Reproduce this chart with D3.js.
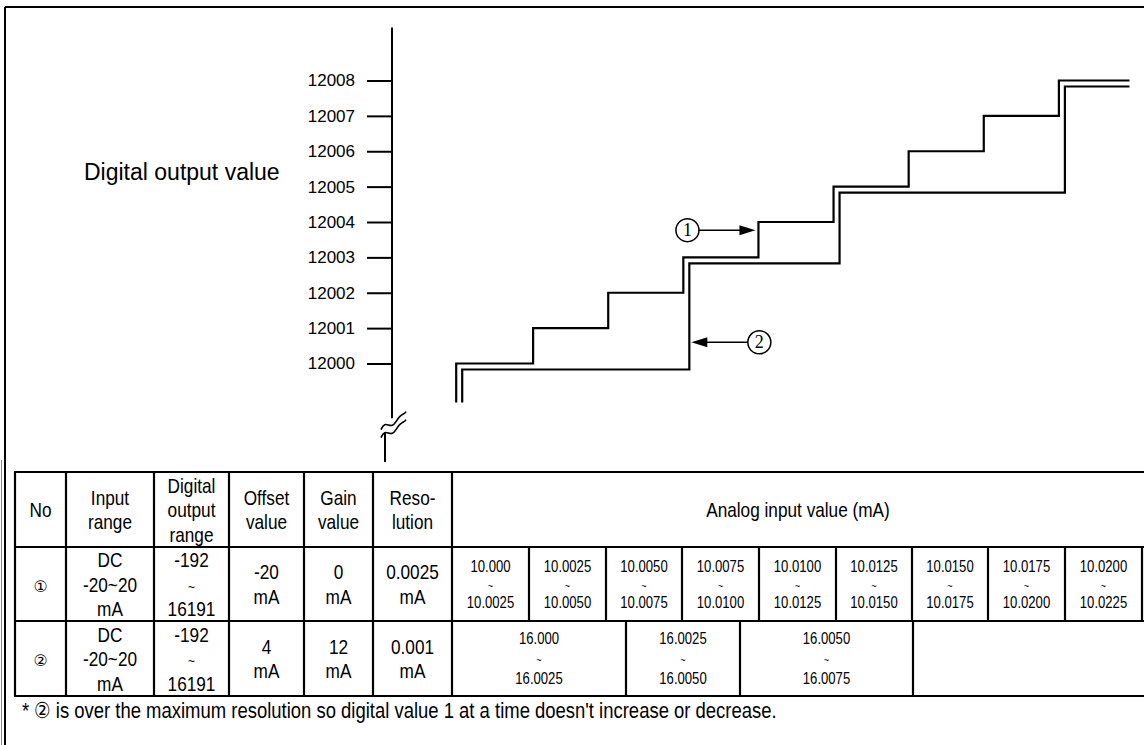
<!DOCTYPE html>
<html>
<head>
<meta charset="utf-8">
<script src="https://cdn.jsdelivr.net/npm/d3@7/dist/d3.min.js"></script>
<style>
  html, body { margin: 0; padding: 0; background: #fff; }
  svg { display: block; }
</style>
</head>
<body>
<svg id="chart" width="1144" height="745"></svg>
<script>
// ---------------- DATA ----------------
const yTicks = [12000, 12001, 12002, 12003, 12004, 12005, 12006, 12007, 12008];
// Series ① : digital value steps by 1 for each 0.0025 mA
const s1Steps  = [10.0025, 10.0050, 10.0075, 10.0100, 10.0125, 10.0150, 10.0175, 10.0200];
const s1Levels = [12000, 12001, 12002, 12003, 12004, 12005, 12006, 12007, 12008];
// Series ② : over max resolution, jumps more than 1 at a time
const s2Steps  = [10.0075, 10.0125, 10.0200];
const s2Levels = [12000, 12003, 12005, 12008];
const xStart = 9.99994, xEnd = 10.02235, yFloor = 11998.9;

const headerCols = ["No", "Input\nrange", "Digital\noutput\nrange", "Offset\nvalue", "Gain\nvalue", "Reso-\nlution"];
const row1Cols = ["①", "DC\n-20~20\nmA", "-192\n~\n16191", "-20\nmA", "0\nmA", "0.0025\nmA"];
const row2Cols = ["②", "DC\n-20~20\nmA", "-192\n~\n16191", "4\nmA", "12\nmA", "0.001\nmA"];
const analogHeader = "Analog input value (mA)";
const row1Analog = ["10.000", "10.0025", "10.0050", "10.0075", "10.0100", "10.0125", "10.0150", "10.0175", "10.0200", "10.0225"];
const row2Analog = ["16.000", "16.0025", "16.0050", "16.0075"];
const footnote = "* ② is over the maximum resolution so digital value 1 at a time doesn't increase or decrease.";
const yTitle = "Digital output value";

// ---------------- FONT CHECK ----------------
function hasFont(name) {
  const c = document.createElement("canvas").getContext("2d");
  const s = "abcdefghijklmnopqrstuvwxyz0123456789";
  c.font = "20px monospace"; const a = c.measureText(s).width;
  c.font = `20px "${name}", monospace`; const b = c.measureText(s).width;
  return Math.abs(a - b) > 0.5;
}
const narrowOK = hasFont("Liberation Sans Narrow");
const NARROW = narrowOK ? '"Liberation Sans Narrow", "Arial Narrow", sans-serif' : '"Liberation Sans", Arial, sans-serif';
const SQ = narrowOK ? 1 : 0.82;

const svg = d3.select("#chart");

// ---------------- FRAME ----------------
svg.append("line").attr("x1", 5).attr("y1", 7).attr("x2", 1144).attr("y2", 7).attr("stroke", "#000").attr("stroke-width", 2);
svg.append("line").attr("x1", 5).attr("y1", 7).attr("x2", 5).attr("y2", 745).attr("stroke", "#000").attr("stroke-width", 2);
svg.append("line").attr("x1", 1.5).attr("y1", 460).attr("x2", 1.5).attr("y2", 745).attr("stroke", "#888").attr("stroke-width", 1);

// ---------------- SCALES ----------------
const x = d3.scaleLinear().domain([10.000, 10.0225]).range([458, 1134]);
const y = d3.scaleLinear().domain([12000, 12008]).range([363.5, 80.5]);
const axisX = 392;

// y axis
const gAxis = svg.append("g").attr("transform", `translate(${axisX},0)`);
gAxis.call(d3.axisLeft(y).tickValues(yTicks).tickFormat(d3.format("d")).tickSize(25).tickPadding(12));
gAxis.select(".domain").remove();
gAxis.selectAll(".tick line").attr("stroke", "#000").attr("stroke-width", 2);
gAxis.selectAll(".tick text").attr("font-family", '"Liberation Sans", Arial, sans-serif').attr("font-size", 17).attr("fill", "#000");

// axis line with break
svg.append("line").attr("x1", axisX).attr("x2", axisX).attr("y1", y(12009.5)).attr("y2", y(11998.45))
  .attr("stroke", "#000").attr("stroke-width", 2);
svg.append("line").attr("x1", axisX - 7).attr("x2", axisX - 7).attr("y1", y(11998.05)).attr("y2", 462)
  .attr("stroke", "#000").attr("stroke-width", 2);
const bY = y(11998.3);
[0, 8].forEach(off => {
  svg.append("path")
    .attr("d", `M${axisX - 11},${bY + off + 6} C${axisX - 6},${bY + off - 6} ${axisX - 2},${bY + off + 8} ${axisX + 4},${bY + off - 2} S${axisX + 12},${bY + off - 8} ${axisX + 14},${bY + off - 12}`)
    .attr("fill", "none").attr("stroke", "#000").attr("stroke-width", 1.6);
});

svg.append("text").attr("x", 84).attr("y", 180).text(yTitle)
  .attr("font-family", '"Liberation Sans", Arial, sans-serif').attr("font-size", 23).attr("fill", "#000");

// ---------------- STEP LINES ----------------
function stepPoints(steps, levels) {
  const pts = [[xStart, yFloor], [xStart, levels[0]]];
  steps.forEach((s, i) => { pts.push([s, levels[i]]); pts.push([s, levels[i + 1]]); });
  pts.push([xEnd, levels[levels.length - 1]]);
  return pts;
}
const line = d3.line().x(d => x(d[0])).y(d => y(d[1]));
svg.append("path").attr("d", line(stepPoints(s1Steps, s1Levels)))
  .attr("fill", "none").attr("stroke", "#000").attr("stroke-width", 2.2);
const off = 6;
const p2 = stepPoints(s2Steps, s2Levels);
const line2 = d3.line().x((d, i) => x(d[0]) + (i === p2.length - 1 ? 0 : off)).y((d, i) => y(d[1]) + (i === 0 ? 0 : off));
svg.append("path").attr("d", line2(p2))
  .attr("fill", "none").attr("stroke", "#000").attr("stroke-width", 2.2);

// ---------------- ANNOTATIONS ----------------
function annot(label, tipX, tipY, dir) {
  const cx = tipX + dir * 68;
  const g = svg.append("g");
  g.append("circle").attr("cx", cx).attr("cy", tipY).attr("r", 11.5).attr("fill", "#fff").attr("stroke", "#000").attr("stroke-width", 1.5);
  g.append("text").attr("x", cx).attr("y", tipY + 6).attr("text-anchor", "middle")
    .attr("font-family", '"Liberation Serif", serif').attr("font-size", 18).text(label);
  g.append("line").attr("x1", cx - dir * 11.5).attr("x2", tipX + dir * 14).attr("y1", tipY).attr("y2", tipY)
    .attr("stroke", "#000").attr("stroke-width", 1.5);
  g.append("path").attr("d", `M${tipX},${tipY} L${tipX + dir * 16},${tipY - 5} L${tipX + dir * 16},${tipY + 5} Z`).attr("fill", "#000");
}
annot("1", x(10.0100) - 3, y(12003.77), -1);
annot("2", x(10.0075) + off + 2, y(12000.6), 1);

// ---------------- TABLE ----------------
const colEdges = [15, 66, 154, 229, 304, 373, 452];
const anEdges = [452, 529, 606, 682, 759, 836, 912, 988, 1065, 1142];
const row2Edges = [452, 626, 740, 913, 1150];
const rowEdges = [472, 547, 621, 696];
const tRight = 1150;
const tg = svg.append("g");
const LW = 2.2;
function hl(x1, x2, yy) { tg.append("line").attr("x1", x1).attr("x2", x2).attr("y1", yy).attr("y2", yy).attr("stroke", "#000").attr("stroke-width", LW); }
function vl(xx, y1, y2) { tg.append("line").attr("x1", xx).attr("x2", xx).attr("y1", y1).attr("y2", y2).attr("stroke", "#000").attr("stroke-width", LW); }
rowEdges.forEach(r => hl(colEdges[0] - 1, tRight, r));
colEdges.forEach(c => vl(c, rowEdges[0], rowEdges[3]));
anEdges.slice(1).forEach(c => vl(c, rowEdges[1], rowEdges[2]));
row2Edges.slice(1, -1).forEach(c => vl(c, rowEdges[2], rowEdges[3]));

function mtext(cx, cy, str, size, lh) {
  const lines = str.split("\n");
  const n = lines.length;
  lines.forEach((t, i) => {
    const yy = cy + (i - (n - 1) / 2) * lh + size * 0.36;
    const isTilde = t === "~";
    const isCircled = /[①②]/.test(t);
    const el = tg.append("text").text(t)
      .attr("text-anchor", "middle")
      .attr("font-family", isCircled ? '"DejaVu Sans", "Noto Sans CJK SC", sans-serif' : NARROW)
      .attr("font-size", isTilde ? size * 0.7 : (isCircled ? size * 0.75 : size))
      .attr("fill", "#000");
    if (SQ !== 1 && !isCircled) el.attr("transform", `translate(${cx},${yy}) scale(${SQ},1)`);
    else el.attr("x", cx).attr("y", yy);
  });
}
const mid = (a, b) => (a + b) / 2;
headerCols.forEach((t, i) => mtext(mid(colEdges[i], colEdges[i + 1]), mid(rowEdges[0], rowEdges[1]), t, 21, 24.5));
row1Cols.forEach((t, i) => mtext(mid(colEdges[i], colEdges[i + 1]), mid(rowEdges[1], rowEdges[2]), t, 21, 24.5));
row2Cols.forEach((t, i) => mtext(mid(colEdges[i], colEdges[i + 1]), mid(rowEdges[2], rowEdges[3]), t, 21, 24.5));
mtext(mid(452, 1144), mid(rowEdges[0], rowEdges[1]), analogHeader, 21, 24);
for (let i = 0; i < 9; i++) {
  mtext(mid(anEdges[i], anEdges[i + 1]), mid(rowEdges[1], rowEdges[2]), row1Analog[i] + "\n~\n" + row1Analog[i + 1], 16, 18);
}
for (let i = 0; i < 3; i++) {
  mtext(mid(row2Edges[i], row2Edges[i + 1]), mid(rowEdges[2], rowEdges[3]), row2Analog[i] + "\n~\n" + row2Analog[i + 1], 16, 20);
}

// footnote
const fnSize = 22, fnSq = narrowOK ? 1 : 0.84;
const fn = svg.append("text").text(footnote).attr("font-family", NARROW).attr("font-size", fnSize).attr("fill", "#000");
if (fnSq !== 1) fn.attr("transform", `translate(22,718) scale(${fnSq},1)`); else fn.attr("x", 22).attr("y", 718);
</script>
</body>
</html>
